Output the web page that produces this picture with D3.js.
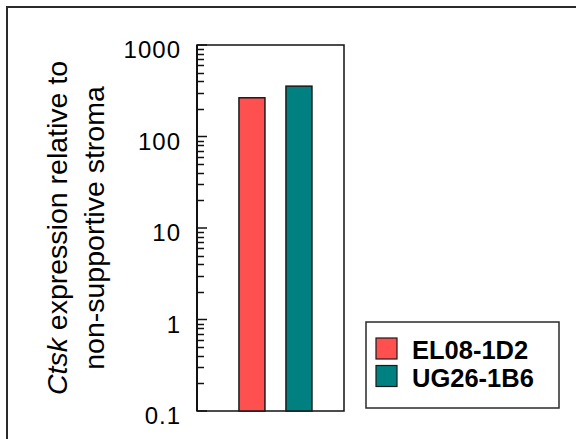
<!DOCTYPE html>
<html>
<head>
<meta charset="utf-8">
<script src="https://cdn.jsdelivr.net/npm/d3@7"></script>
<style>
  html, body { margin: 0; padding: 0; background: #fff; }
  svg { display: block; font-family: Arial, "Liberation Sans", Helvetica, sans-serif; }
</style>
</head>
<body>
<svg id="chart" width="576" height="439"></svg>
<script>
// Cell lines and their Ctsk expression relative to non-supportive stroma
const categories = ["EL08-1D2", "UG26-1B6"];
const values = [265, 355];
const colors = ["#ff5050", "#008080"];
const tickValues = [0.1, 1, 10, 100, 1000];
const tickLabels = ["0.1", "1", "10", "100", "1000"];

const svg = d3.select("#chart");
const plot = { left: 197, right: 344, top: 45, bottom: 411 };

// Outer frame (open at right and bottom)
svg.append("path")
  .attr("d", "M7,439 L7,7 L576,7")
  .attr("fill", "none")
  .attr("stroke", "#2a2a2a")
  .attr("stroke-width", 2);

const y = d3.scaleLog().domain([0.1, 1000]).range([plot.bottom, plot.top]);
const x = d3.scaleBand()
  .domain(categories)
  .range([plot.left, plot.right])
  .paddingInner(0.447)
  .paddingOuter(0.787)
  .align(0.567);

// Plot frame
svg.append("rect")
  .attr("x", plot.left).attr("y", plot.top)
  .attr("width", plot.right - plot.left)
  .attr("height", plot.bottom - plot.top)
  .attr("fill", "#fff")
  .attr("stroke", "#111")
  .attr("stroke-width", 1.5);

// Bars
svg.append("g").selectAll("rect")
  .data(categories)
  .join("rect")
  .attr("x", d => x(d))
  .attr("y", (d, i) => y(values[i]))
  .attr("width", x.bandwidth())
  .attr("height", (d, i) => plot.bottom - y(values[i]))
  .attr("fill", (d, i) => colors[i])
  .attr("stroke", "#1a1a1a")
  .attr("stroke-width", 1.5);

// Inward log ticks on the left axis
const minor = [];
for (let e = -1; e < 3; e++) {
  for (let m = 2; m <= 9; m++) minor.push(m * Math.pow(10, e));
}
const tickG = svg.append("g").attr("stroke", "#111");
tickG.selectAll("line.minor")
  .data(minor)
  .join("line")
  .attr("class", "minor")
  .attr("x1", plot.left).attr("x2", plot.left + 7)
  .attr("y1", d => Math.round(y(d)) + 0.5)
  .attr("y2", d => Math.round(y(d)) + 0.5)
  .attr("stroke-width", 1.5);
tickG.selectAll("line.major")
  .data(tickValues)
  .join("line")
  .attr("class", "major")
  .attr("x1", plot.left).attr("x2", plot.left + 10)
  .attr("y1", d => y(d))
  .attr("y2", d => y(d))
  .attr("stroke-width", 1.5);

// Left axis line, slightly heavier
svg.append("line")
  .attr("x1", plot.left).attr("x2", plot.left)
  .attr("y1", plot.top).attr("y2", plot.bottom)
  .attr("stroke", "#111").attr("stroke-width", 2);

// Tick labels
svg.append("g").selectAll("text")
  .data(tickValues)
  .join("text")
  .attr("x", 181)
  .attr("y", d => y(d) + 13)
  .attr("text-anchor", "end")
  .attr("font-size", 24)
  .attr("letter-spacing", 1)
  .attr("fill", "#000")
  .text((d, i) => tickLabels[i]);

// Y-axis title, two lines, rotated
const cy = (plot.top + plot.bottom) / 2;
const t1 = svg.append("text")
  .attr("transform", `translate(67,${cy}) rotate(-90)`)
  .attr("text-anchor", "middle")
  .attr("font-size", 28.5)
  .attr("fill", "#000");
t1.append("tspan").attr("font-style", "italic").text("Ctsk");
t1.append("tspan").text(" expression relative to");
svg.append("text")
  .attr("transform", `translate(104,${cy}) rotate(-90)`)
  .attr("text-anchor", "middle")
  .attr("font-size", 28.5)
  .attr("fill", "#000")
  .text("non-supportive stroma");

// Legend
const legend = svg.append("g");
legend.append("rect")
  .attr("x", 366).attr("y", 322)
  .attr("width", 193).attr("height", 86)
  .attr("fill", "#fff")
  .attr("stroke", "#2a2a2a")
  .attr("stroke-width", 1.5);
const rows = legend.selectAll("g.row")
  .data(categories)
  .join("g")
  .attr("class", "row")
  .attr("transform", (d, i) => `translate(376,${338 + i * 27.5})`);
rows.append("rect")
  .attr("width", 21).attr("height", 21)
  .attr("fill", (d, i) => colors[i])
  .attr("stroke", "#1a1a1a")
  .attr("stroke-width", 1.2);
rows.append("text")
  .attr("x", 36).attr("y", 21)
  .attr("font-size", 25.5)
  .attr("font-weight", "bold")
  .attr("fill", "#000")
  .text(d => d);
</script>
</body>
</html>
